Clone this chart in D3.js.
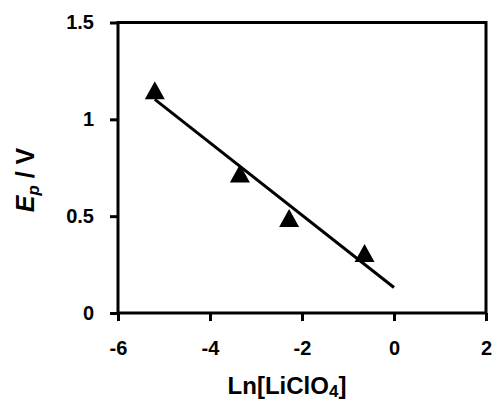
<!DOCTYPE html>
<html>
<head>
<meta charset="utf-8">
<script src="https://cdn.jsdelivr.net/npm/d3@7/dist/d3.min.js"></script>
<style>
  html, body { margin: 0; padding: 0; background: #fff; }
  svg { display: block; }
  text { font-family: "Liberation Sans", Arial, sans-serif; font-weight: bold; fill: #000; }
</style>
</head>
<body>
<svg id="chart" width="492" height="403"></svg>
<script>
// Peak potential versus ln of LiClO4 concentration
const lnConc = [-5.2, -3.35, -2.28, -0.64];
const peakPotential = [1.15, 0.72, 0.49, 0.31];
const xTicks = [-6, -4, -2, 0, 2];
const yTicks = [0, 0.5, 1, 1.5];
const trendRange = [-5.2, 0];

const svg = d3.select("#chart");
const plotLeft = 118, plotRight = 486, plotTop = 22.5, plotBottom = 313;

const x = d3.scaleLinear().domain([-6, 2]).range([plotLeft, plotRight]);
const y = d3.scaleLinear().domain([0, 1.5]).range([plotBottom, plotTop]);

// least-squares fit of the measured points
const n = lnConc.length;
const mx = d3.mean(lnConc), my = d3.mean(peakPotential);
let sxy = 0, sxx = 0;
for (let i = 0; i < n; i++) {
  sxy += (lnConc[i] - mx) * (peakPotential[i] - my);
  sxx += (lnConc[i] - mx) ** 2;
}
const slope = sxy / sxx;
const intercept = my - slope * mx;

// plot frame
svg.append("rect")
  .attr("x", plotLeft).attr("y", plotTop)
  .attr("width", plotRight - plotLeft).attr("height", plotBottom - plotTop)
  .attr("fill", "none").attr("stroke", "#000").attr("stroke-width", 3);

// x axis
const xAxis = svg.append("g")
  .attr("transform", `translate(0,${plotBottom})`)
  .call(d3.axisBottom(x).tickValues(xTicks).tickFormat(d => String(d))
    .tickSizeInner(8).tickSizeOuter(0).tickPadding(20));
xAxis.select(".domain").remove();
xAxis.selectAll(".tick line").attr("stroke", "#000").attr("stroke-width", 3);
xAxis.selectAll(".tick text").attr("font-size", 20).attr("font-family", "Liberation Sans, Arial, sans-serif");

// y axis
const yAxis = svg.append("g")
  .attr("transform", `translate(${plotLeft},0)`)
  .call(d3.axisLeft(y).tickValues(yTicks).tickFormat(d => String(d))
    .tickSizeInner(8).tickSizeOuter(0).tickPadding(16));
yAxis.select(".domain").remove();
yAxis.selectAll(".tick line").attr("stroke", "#000").attr("stroke-width", 3);
yAxis.selectAll(".tick text").attr("font-size", 20).attr("font-family", "Liberation Sans, Arial, sans-serif");

// trend line
svg.append("line")
  .attr("x1", x(trendRange[0])).attr("y1", y(slope * trendRange[0] + intercept))
  .attr("x2", x(trendRange[1])).attr("y2", y(slope * trendRange[1] + intercept))
  .attr("stroke", "#000").attr("stroke-width", 3);

// triangle markers
const tw = 20, th = 18;
const tri = `M0,${-th / 2}L${tw / 2},${th / 2}L${-tw / 2},${th / 2}Z`;
svg.append("g").selectAll("path")
  .data(lnConc.map((v, i) => [v, peakPotential[i]]))
  .join("path")
  .attr("d", tri)
  .attr("transform", d => `translate(${x(d[0])},${y(d[1])})`)
  .attr("fill", "#000");

// axis titles
const xt = svg.append("text")
  .attr("x", 287).attr("y", 394)
  .attr("text-anchor", "middle").attr("font-size", 24);
xt.append("tspan").text("Ln[LiClO");
xt.append("tspan").attr("font-size", 17).attr("dy", 3).text("4");
xt.append("tspan").attr("dy", -3).text("]");

const yt = svg.append("text")
  .attr("transform", "translate(34,180) rotate(-90)")
  .attr("text-anchor", "middle").attr("font-size", 25);
yt.append("tspan").attr("font-style", "italic").text("E");
yt.append("tspan").attr("font-style", "italic").attr("font-size", 17).attr("dy", 5).text("p");
yt.append("tspan").attr("dy", -5).text(" / V");
</script>
</body>
</html>
